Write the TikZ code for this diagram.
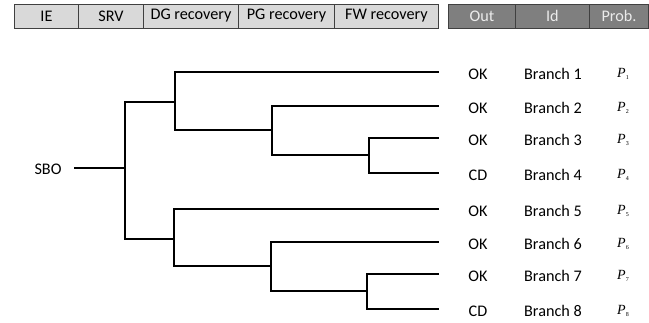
\documentclass[tikz,border=0pt]{standalone}
\usepackage{fontspec}
\setmainfont{Carlito}
\newfontfamily\timesfont{Liberation Serif}
\definecolor{cellgray}{HTML}{D9D9D9}
\definecolor{celldark}{HTML}{7F7F7F}
\definecolor{cellline}{HTML}{404040}
\tikzset{
  lbl/.style={font=\fontsize{16.2}{17}\selectfont, inner sep=0pt},
  hcell/.style={lbl, draw=cellline, line width=0.9pt, fill=cellgray, minimum height=24pt, anchor=west},
  dcell/.style={hcell, fill=celldark, text=white!92!black},
  tree/.style={line width=1.6pt, line cap=rect}
}
\newcommand{\prob}[1]{{\timesfont\fontsize{14}{14}\selectfont\itshape P}\raisebox{-2.5pt}{\timesfont\fontsize{6}{6}\selectfont #1}}

\begin{document}
\begin{tikzpicture}[x=1pt, y=-1pt]
   \useasboundingbox (0,0) rectangle (649,322);
   % header
   \node[hcell, minimum width=64pt]  (ie)  at ( 14,16) {IE};
   \node[hcell, minimum width=65pt]  (srv) at ( 78,16) {SRV};
   \node[hcell, minimum width=95pt]  (dg)  at (143,16) {DG recovery};
   \node[hcell, minimum width=96pt]  (pg)  at (238,16) {PG recovery};
   \node[hcell, minimum width=104pt] (fw)  at (334,16) {FW recovery};
   \node[dcell, minimum width=67pt]  (out) at (448,16) {Out};
   \node[dcell, minimum width=74pt]  (id)  at (515,16) {Id};
   \node[dcell, minimum width=59pt]  (pr)  at (589,16) {Prob.};
   % initiating event
   \node[lbl] (sbo) at (48,169) {SBO};
   \coordinate (s)  at ( 75,168);
   \coordinate (j0) at (125,168);
   \coordinate (j1) at (175,102);
   \coordinate (j2) at (272,130);
   \coordinate (j3) at (369,155);
   \coordinate (j4) at (174,239);
   \coordinate (j5) at (271,266);
   \coordinate (j6) at (367,291);
   % sequences
   \foreach \y/\o [count=\i] in {72/OK,106/OK,138/OK,173/CD,209/OK,242/OK,274/OK,309/CD}{
      \coordinate (e\i) at (438,\y);
      \node[lbl] (o\i) at (478,\y+2) {\o};
      \node[lbl] (b\i) at (553,\y+2) {Branch \i};
      \node[inner sep=0pt] (p\i) at (623,\y+2) {\prob{\i}};
   }
   \draw[tree] (s) -- (j0);
   \draw[tree] (j0) |- (j1);
   \draw[tree] (j0) |- (j4);
   \draw[tree] (j1) |- (e1);
   \draw[tree] (j1) |- (j2);
   \draw[tree] (j2) |- (e2);
   \draw[tree] (j2) |- (j3);
   \draw[tree] (j3) |- (e3);
   \draw[tree] (j3) |- (e4);
   \draw[tree] (j4) |- (e5);
   \draw[tree] (j4) |- (j5);
   \draw[tree] (j5) |- (e6);
   \draw[tree] (j5) |- (j6);
   \draw[tree] (j6) |- (e7);
   \draw[tree] (j6) |- (e8);
\end{tikzpicture}
\end{document}
